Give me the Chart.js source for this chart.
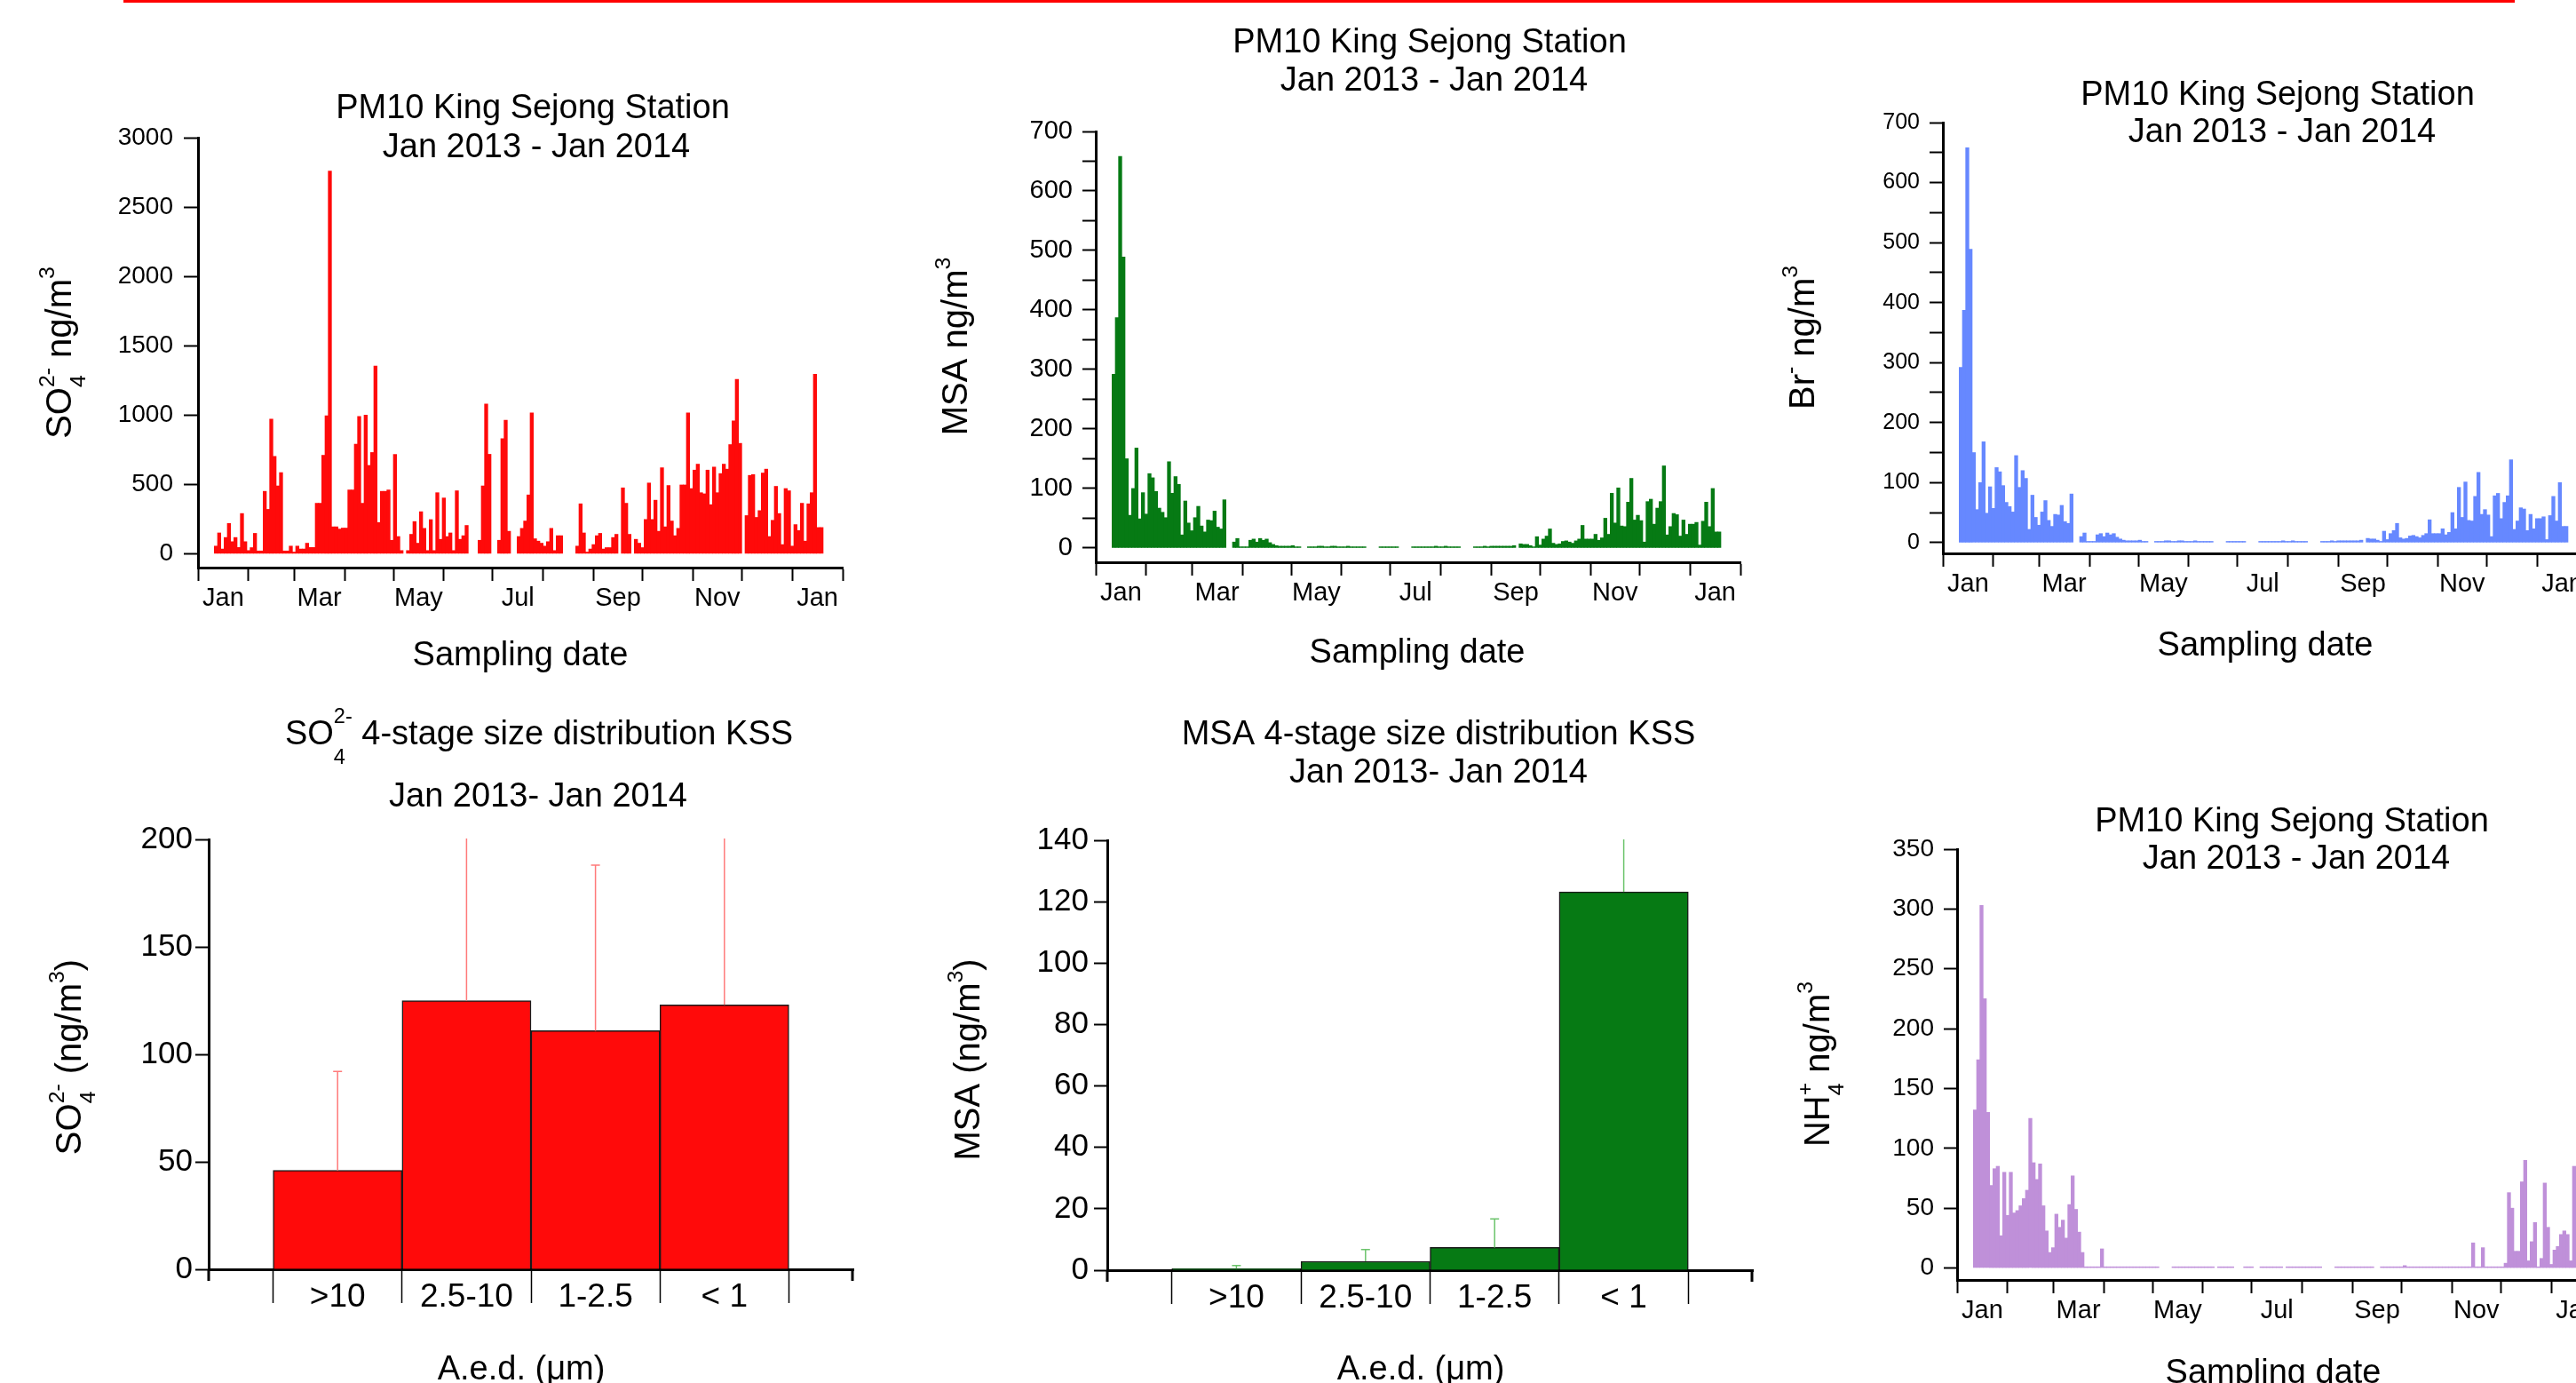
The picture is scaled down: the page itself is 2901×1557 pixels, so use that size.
<!DOCTYPE html>
<html>
<head>
<meta charset="utf-8">
<script src="https://cdn.jsdelivr.net/npm/chart.js@4.4.1/dist/chart.umd.min.js"></script>
<style>
  html, body { margin: 0; padding: 0; background: #fff; }
  body { width: 2901px; height: 1557px; position: relative; overflow: hidden; }
  canvas { position: absolute; }
  #topRule { position: absolute; left: 139px; top: 0; width: 2693px; height: 3px; background: #ff0000; }
</style>
</head>
<body>
<div id="topRule"></div>
<canvas id="so4Chart"></canvas>
<canvas id="msaChart"></canvas>
<canvas id="brChart"></canvas>
<canvas id="so4SizeChart"></canvas>
<canvas id="msaSizeChart"></canvas>
<canvas id="nh4Chart"></canvas>
<script>
// time axis: days since 1 Jan 2013, values binned every 2 days
const binDays = 2;
const monthStarts = [0, 31, 59, 90, 120, 151, 181, 212, 243, 273, 304, 334, 365, 396];
const monthLabels = ['Jan', 'Mar', 'May', 'Jul', 'Sep', 'Nov', 'Jan'];
const labelDays = [15.5, 74.5, 135.5, 196.5, 258, 319, 380.5];

// SO4 2- PM10, ng/m3
const so4Values = [
  null, null, null, null, null, 55, 150, 34, 117, 218,
  87, 117, 45, 290, 87, 23, 44, 147, 20, 20,
  450, 320, 970, 702, 489, 585, 20, 20, 55, 12,
  55, 34, 34, 76, 45, 45, 364, 364, 710, 995,
  2760, 194, 194, 178, 185, 185, 460, 460, 790, 990,
  364, 1000, 637, 730, 1353, 225, 450, 450, 460, 97,
  716, 124, 23, null, 23, 140, 232, 76, 303, 183,
  23, 246, 23, 440, 104, 402, 124, 150, 23, 454,
  104, 130, 204, null, null, null, 97, 489, 1080, 717,
  null, null, 97, 830, 962, 162, null, null, 124, 183,
  236, 424, 1015, 108, 91, 76, 55, 87, 183, 23,
  130, 130, null, null, null, null, 55, 360, 150, 12,
  34, 66, 130, 147, 34, 44, 44, 117, 140, null,
  475, 364, 140, null, 104, 76, 44, 247, 510, 247,
  386, 162, 620, 194, 492, 236, 130, 183, 496, 496,
  1015, 470, 603, 646, 440, 432, 603, 354, 625, 440,
  578, 646, 610, 787, 958, 1257, 796, null, 275, 565,
  571, 262, 311, 582, 610, 124, 241, 486, 290, 66,
  470, 454, 55, 210, 167, 364, 91, 360, 440, 1294,
  189, 189, null, null, null, null, null, null
];

// MSA PM10, ng/m3
const msaValues = [
  null, null, null, null, null, 292, 387, 658, 489, 150,
  55, 100, 168, 49, 93, 57, 125, 118, 95, 67,
  60, 51, 145, 92, 120, 107, 22, 79, 42, 29,
  51, 70, 37, 27, 47, 46, 62, 35, 32, 81,
  null, null, 10, 16, 2, 2, 2, 13, 15, 10,
  16, 13, 15, 9, 6, 4, 3, 3, 3, 3,
  4, 2, 2, null, null, 2, 2, 2, 3, 3,
  2, 2, 3, 3, 2, 2, 2, 3, 2, 2,
  2, 2, 2, null, null, null, null, 2, 2, 2,
  2, 2, 2, null, null, null, null, 2, 2, 2,
  2, 2, 2, 2, 3, 2, 2, 3, 2, 2,
  2, 2, null, null, null, null, 2, 2, 2, 3,
  2, 3, 3, 3, 3, 3, 3, 3, 4, null,
  7, 6, 6, 4, 2, 19, 5, 15, 20, 32,
  8, 6, 7, 11, 12, 10, 8, 12, 15, 38,
  15, 15, 15, 23, 13, 17, 50, 23, 92, 42,
  101, 37, 36, 77, 117, 47, 55, 46, 10, 78,
  82, 40, 67, 78, 138, 22, 36, 58, 56, 20,
  47, 23, 40, 40, 43, 5, 45, 77, 36, 100,
  27, 27, null, null, null, null, null, null
];

// Br- PM10, ng/m3 (the figure shows the same trace as the MSA panel)
const brValues = msaValues.slice();

// NH4+ PM10, ng/m3
const nh4Values = [
  null, null, null, null, null, 132, 174, 303, 225, 130,
  69, 83, 85, 27, 80, 44, 80, 46, 48, 52,
  58, 65, 125, 88, 74, 87, 52, 31, 13, 17,
  45, 34, 40, 25, 53, 77, 49, 30, 13, 1,
  1, 1, 1, 1, 16, 1, 1, 1, 1, 1,
  1, 1, 1, 1, 1, 1, 1, 1, 1, 1,
  1, 1, null, null, null, null, 1, 1, 1, 1,
  1, 1, 1, 1, 1, 1, 1, 1, 1, null,
  1, 1, 1, 1, 1, null, null, null, 1, 1,
  1, null, null, 1, 1, 1, 1, 1, 1, 1,
  null, 1, 1, 1, 1, 1, 1, 1, 1, 1,
  1, 1, null, null, null, null, 1, 1, 1, 1,
  1, 1, 1, 1, 1, 1, 1, 1, null, null,
  1, 1, 1, 1, 1, 1, 1, 2, 1, 1,
  1, 1, 1, 1, 1, 1, 1, 1, 1, 1,
  1, 1, 1, 1, 1, 1, 1, 1, 21, 1,
  1, 17, 1, 1, 1, 1, 1, 1, 4, 63,
  50, 14, 14, 72, 90, 6, 22, 38, 1, 8,
  71, 34, 3, 15, 18, 28, 31, 28, 6, 85,
  null, null, null, null, null, null, null, null
];

// 4-stage size distribution (aerodynamic equivalent diameter, um)
const sizeBins = ['>10', '2.5-10', '1-2.5', '< 1'];
const so4Size = [46, 125, 111, 123];
const so4SizeErr = [46, 105, 77, 100];
const msaSize = [0.5, 2.9, 7.4, 123.2];
const msaSizeErr = [1.0, 3.8, 9.3, 20];

// y tick values
const so4Ticks = [0, 500, 1000, 1500, 2000, 2500, 3000];
const msaTicks = [0, 50, 100, 150, 200, 250, 300, 350, 400, 450, 500, 550, 600, 650, 700];
const nh4Ticks = [0, 50, 100, 150, 200, 250, 300, 350];
const so4SizeTicks = [0, 50, 100, 150, 200];
const msaSizeTicks = [0, 20, 40, 60, 80, 100, 120, 140];

const FONT = '"Liberation Sans", Arial, Helvetica, sans-serif';
Chart.defaults.font.family = FONT;
Chart.defaults.color = '#000';

const PAD = { left: 130, top: 165, right: 20, bottom: 35 };
const Y_W = 100, X_H = 100;
const xTicks = [...monthStarts, ...labelDays].sort((a, b) => a - b);

function place(id, area) {
  const c = document.getElementById(id);
  const left = area.l - PAD.left - Y_W;
  const top = area.t - PAD.top;
  c.width = area.r - area.l + PAD.left + Y_W + PAD.right;
  c.height = area.b - area.t + PAD.top + X_H + PAD.bottom;
  c.style.left = left + 'px';
  c.style.top = top + 'px';
  return { canvas: c, origin: [left, top] };
}

// titles and axis titles with sub/superscripts, page coordinates of the baseline centre
function textPlugin(origin, items) {
  return {
    id: 'richText',
    afterDraw(chart) {
      const ctx = chart.ctx;
      items.forEach(item => {
        const s = item.size, small = s * 0.62;
        const subDy = (item.subDy || 0.4) * s, supDy = (item.supDy || 0.48) * s;
        const parts = typeof item.text === 'string' ? [item.text] : item.text;
        const widthOf = p => {
          if (typeof p === 'string') { ctx.font = s + 'px ' + FONT; return ctx.measureText(p).width; }
          ctx.font = small + 'px ' + FONT;
          return Math.max(p.sub ? ctx.measureText(p.sub).width : 0, p.sup ? ctx.measureText(p.sup).width : 0);
        };
        const total = parts.reduce((a, p) => a + widthOf(p), 0);
        ctx.save();
        ctx.translate(item.x - origin[0], item.y - origin[1]);
        if (item.rotate) ctx.rotate(-Math.PI / 2);
        ctx.fillStyle = '#000';
        ctx.textBaseline = 'alphabetic';
        ctx.textAlign = 'left';
        let x = -total / 2;
        parts.forEach(p => {
          const w = widthOf(p);
          if (typeof p === 'string') {
            ctx.font = s + 'px ' + FONT;
            ctx.fillText(p, x, 0);
          } else {
            ctx.font = small + 'px ' + FONT;
            if (p.sub) ctx.fillText(p.sub, x, subDy);
            if (p.sup) ctx.fillText(p.sup, x, -supDy);
          }
          x += w;
        });
        ctx.restore();
      });
    }
  };
}

// error bars (upper half) plus the short drops at both ends of the size axis
function errorBarPlugin(errors, color) {
  return {
    id: 'errorBars',
    afterDatasetsDraw(chart) {
      const ctx = chart.ctx, area = chart.chartArea, y = chart.scales.y;
      const data = chart.data.datasets[0].data;
      ctx.save();
      ctx.beginPath();
      ctx.rect(area.left, area.top - 1, area.right - area.left, area.bottom - area.top + 1);
      ctx.clip();
      ctx.strokeStyle = color;
      ctx.lineWidth = 1.5;
      chart.getDatasetMeta(0).data.forEach((bar, i) => {
        const v = data[i], e = errors[i];
        if (v == null || e == null) return;
        const top = y.getPixelForValue(v + e);
        ctx.beginPath();
        ctx.moveTo(bar.x, y.getPixelForValue(v));
        ctx.lineTo(bar.x, top);
        if (v + e <= y.max) { ctx.moveTo(bar.x - 5, top); ctx.lineTo(bar.x + 5, top); }
        ctx.stroke();
      });
      ctx.restore();
    },
    afterDraw(chart) {
      const ctx = chart.ctx, area = chart.chartArea;
      ctx.save();
      ctx.strokeStyle = '#000';
      ctx.lineWidth = 3;
      ctx.beginPath();
      ctx.moveTo(area.left, area.bottom);
      ctx.lineTo(area.left, area.bottom + 13);
      ctx.moveTo(area.right - 1, area.bottom);
      ctx.lineTo(area.right - 1, area.bottom + 13);
      ctx.stroke();
      ctx.restore();
    }
  };
}

function yAxis(min, max, ticks, labelEvery, fontSize, padding, tickLength) {
  return {
    min: min, max: max,
    afterBuildTicks: s => { s.ticks = ticks.map(v => ({ value: v })); },
    afterFit: s => { s.width = Y_W; },
    ticks: { autoSkip: false, padding: padding, color: '#000', font: { size: fontSize },
      callback: v => (v % labelEvery === 0 ? String(v) : '') },
    grid: { drawOnChartArea: false, tickLength: tickLength, tickWidth: 2, tickColor: '#000' },
    border: { color: '#000', width: 3 }
  };
}

function baseOptions() {
  return {
    responsive: false,
    animation: false,
    devicePixelRatio: 1,
    layout: { padding: PAD },
    plugins: { legend: { display: false }, tooltip: { enabled: false } }
  };
}

function timeSeriesChart(id, area, values, color, y, texts) {
  const p = place(id, area);
  const options = baseOptions();
  options.scales = {
    x: {
      type: 'linear', min: 0, max: 396, offset: false,
      afterBuildTicks: s => { s.ticks = xTicks.map(v => ({ value: v })); },
      afterFit: s => { s.height = X_H; },
      ticks: { autoSkip: false, maxRotation: 0, padding: 3, color: '#000', font: { size: 29 },
        callback: v => { const k = labelDays.indexOf(v); return k < 0 ? '' : monthLabels[k]; } },
      grid: { offset: false, drawOnChartArea: false, tickLength: 15, tickWidth: 2,
        tickColor: c => (c.tick && monthStarts.includes(c.tick.value) ? '#000' : 'rgba(0,0,0,0)') },
      border: { color: '#000', width: 3 }
    },
    y: y
  };
  return new Chart(p.canvas, {
    type: 'bar',
    data: {
      datasets: [{
        data: values.map((v, i) => ({ x: i * binDays + binDays / 2, y: v })),
        backgroundColor: color,
        borderWidth: 0,
        barPercentage: 1,
        categoryPercentage: 1
      }]
    },
    options: options,
    plugins: [textPlugin(p.origin, texts)]
  });
}

function sizeChart(id, area, values, errors, color, errColor, y, texts) {
  const p = place(id, area);
  const options = baseOptions();
  options.scales = {
    x: {
      type: 'category', offset: false,
      afterFit: s => { s.height = X_H; },
      ticks: { autoSkip: false, maxRotation: 0, padding: -28, color: '#000', font: { size: 37 } },
      grid: { offset: true, drawOnChartArea: false, tickLength: 38, tickWidth: 1.5, tickColor: '#000' },
      border: { color: '#000', width: 3 }
    },
    y: y
  };
  return new Chart(p.canvas, {
    type: 'bar',
    data: {
      labels: ['', ...sizeBins, ''],
      datasets: [{
        data: [null, ...values, null],
        backgroundColor: color,
        borderColor: '#1a1a1a',
        borderWidth: 1.5,
        barPercentage: 1,
        categoryPercentage: 1
      }]
    },
    options: options,
    plugins: [textPlugin(p.origin, texts), errorBarPlugin([null, ...errors, null], errColor)]
  });
}

const station = 'PM10 King Sejong Station';
const period = 'Jan 2013 - Jan 2014';

timeSeriesChart('so4Chart', { l: 223, t: 155, r: 949, b: 639 }, so4Values, '#ff0a0a',
  yAxis(-100, 3000, so4Ticks, 500, 28, 12, 16), [
    { x: 600, y: 133, size: 38, text: station },
    { x: 604, y: 177, size: 38, text: period },
    { x: 80, y: 397, size: 40, rotate: true, text: ['SO', { sub: '4', sup: '2-' }, ' ng/m', { sup: '3' }] },
    { x: 586, y: 749, size: 38, text: 'Sampling date' }
  ]);

timeSeriesChart('msaChart', { l: 1234, t: 148, r: 1960, b: 633 }, msaValues, '#067a14',
  yAxis(-24, 700, msaTicks, 100, 29, 11, 15), [
    { x: 1610, y: 59, size: 38, text: station },
    { x: 1615, y: 102, size: 38, text: period },
    { x: 1089, y: 390, size: 40, rotate: true, text: ['MSA ng/m', { sup: '3' }] },
    { x: 1596, y: 746, size: 38, text: 'Sampling date' }
  ]);

timeSeriesChart('brChart', { l: 2188, t: 138, r: 2914, b: 623 }, brValues, '#6688ff',
  yAxis(-18, 700, msaTicks, 100, 25, 11, 15), [
    { x: 2565, y: 118, size: 38, text: station },
    { x: 2570, y: 160, size: 38, text: period },
    { x: 2043, y: 380, size: 40, rotate: true, text: ['Br', { sup: '-' }, ' ng/m', { sup: '3' }] },
    { x: 2551, y: 738, size: 38, text: 'Sampling date' }
  ]);

sizeChart('so4SizeChart', { l: 235, t: 945, r: 961, b: 1429 }, so4Size, so4SizeErr, '#ff0a0a', '#ff7a7a',
  yAxis(0, 200, so4SizeTicks, 50, 35, 3, 15), [
    { x: 607, y: 838, size: 38, subDy: 0.58, supDy: 0.62,
      text: ['SO', { sub: '4', sup: '2-' }, ' 4-stage size distribution KSS'] },
    { x: 606, y: 908, size: 38, text: 'Jan 2013- Jan 2014' },
    { x: 91, y: 1190, size: 40, rotate: true, text: ['SO', { sub: '4', sup: '2-' }, ' (ng/m', { sup: '3' }, ')'] },
    { x: 587, y: 1553, size: 38, text: 'A.e.d. (\u03bcm)' }
  ]);

sizeChart('msaSizeChart', { l: 1247, t: 946, r: 1974, b: 1430 }, msaSize, msaSizeErr, '#067a14', '#6cc46c',
  yAxis(0, 140, msaSizeTicks, 20, 35, 6, 15), [
    { x: 1620, y: 838, size: 38, text: 'MSA 4-stage size distribution KSS' },
    { x: 1620, y: 881, size: 38, text: 'Jan 2013- Jan 2014' },
    { x: 1103, y: 1193, size: 40, rotate: true, text: ['MSA (ng/m', { sup: '3' }, ')'] },
    { x: 1600, y: 1553, size: 38, text: 'A.e.d. (\u03bcm)' }
  ]);

timeSeriesChart('nh4Chart', { l: 2204, t: 956, r: 2930, b: 1441 }, nh4Values, '#bf90d9',
  yAxis(-10, 350, nh4Ticks, 50, 28, 11, 15), [
    { x: 2581, y: 936, size: 38, text: station },
    { x: 2586, y: 978, size: 38, text: period },
    { x: 2060, y: 1198, size: 40, rotate: true, text: ['NH', { sub: '4', sup: '+' }, ' ng/m', { sup: '3' }] },
    { x: 2560, y: 1557, size: 38, text: 'Sampling date' }
  ]);
</script>
</body>
</html>
